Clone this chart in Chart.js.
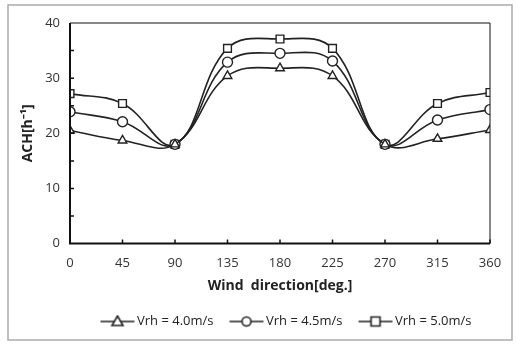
<!DOCTYPE html>
<html>
<head>
<meta charset="utf-8">
<script src="https://cdn.jsdelivr.net/npm/chart.js@4.4.1/dist/chart.umd.min.js"></script>
<style>
  body { margin: 0; background: #fff; }
  #wrap { width: 517px; height: 346px; position: relative; }
</style>
</head>
<body>
<div id="wrap"><canvas id="c" width="517" height="346"></canvas></div>
<script>
// wind direction [deg] and ACH values
var angles = [0, 45, 90, 135, 180, 225, 270, 315, 360];
var ach40 = [20.5, 18.7, 18.0, 30.4, 31.8, 30.4, 18.0, 19.0, 20.6];
var ach45 = [23.9, 22.1, 18.0, 32.9, 34.5, 33.1, 18.0, 22.4, 24.3];
var ach50 = [27.2, 25.4, 18.0, 35.4, 37.1, 35.4, 18.0, 25.4, 27.4];
var seriesNames = ['Vrh = 4.0m/s', 'Vrh = 4.5m/s', 'Vrh = 5.0m/s'];
var markers = ['triangle', 'circle', 'rect'];
var xTicks = [0, 45, 90, 135, 180, 225, 270, 315, 360];

var FONT = "'Open Sans', 'Liberation Sans', sans-serif";

function pts(vals) {
  return angles.map(function(a, i) { return { x: a, y: vals[i] }; });
}

// legend icon: short line with marker in the middle
// (canvas is drawn centred on the 30px legend box, so line runs 5..39)
function legendIcon(style) {
  var cv = document.createElement('canvas');
  cv.width = 40; cv.height = 14;
  var g = cv.getContext('2d');
  g.strokeStyle = '#222'; g.lineWidth = 1.6;
  g.beginPath(); g.moveTo(5, 7); g.lineTo(39, 7); g.stroke();
  g.fillStyle = '#fff';
  g.beginPath();
  var cx = 22;
  if (style == 'triangle') {
    g.moveTo(cx, 1.5); g.lineTo(cx + 5.5, 11); g.lineTo(cx - 5.5, 11); g.closePath();
  } else if (style == 'circle') {
    g.arc(cx, 7, 4.5, 0, Math.PI * 2);
  } else {
    g.rect(cx - 4.5, 2.5, 9, 9);
  }
  g.fill(); g.stroke();
  return cv;
}

var sets = [ach40, ach45, ach50].map(function(v, i) {
  return {
    label: seriesNames[i],
    data: pts(v),
    borderColor: '#222',
    borderWidth: 1.6,
    tension: 0.4,
    pointStyle: markers[i],
    pointRadius: markers[i] == 'rect' ? 5.5 : 5,
    pointBackgroundColor: '#fff',
    pointBorderColor: '#222',
    pointBorderWidth: 1.4,
    fill: false
  };
});

var framePlugin = {
  id: 'frame',
  afterLayout: function(chart) {
    // legend sits under the plot area rather than the whole canvas
    chart.legend.left += 31;
    chart.legend.right += 31;
  },
  beforeDraw: function(chart) {
    var ctx = chart.ctx;
    ctx.save();
    ctx.strokeStyle = '#aaa';
    ctx.lineWidth = 1.5;
    ctx.strokeRect(8, 5, 504, 335);
    ctx.restore();
  },
  afterDatasetsDraw: function(chart) {
    var ctx = chart.ctx, a = chart.chartArea;
    var xs = chart.scales.x, ys = chart.scales.y;
    ctx.save();
    ctx.strokeStyle = '#111';
    ctx.lineWidth = 1;
    ctx.beginPath();
    ctx.moveTo(a.left, a.top); ctx.lineTo(a.right, a.top); ctx.lineTo(a.right, a.bottom);
    ctx.stroke();
    ctx.lineWidth = 2;
    ctx.beginPath();
    ctx.moveTo(a.left, a.top); ctx.lineTo(a.left, a.bottom); ctx.lineTo(a.right, a.bottom);
    ctx.stroke();
    // inward tick marks
    ctx.lineWidth = 1.5;
    ctx.beginPath();
    xTicks.forEach(function(t) {
      var px = xs.getPixelForValue(t);
      ctx.moveTo(px, a.bottom); ctx.lineTo(px, a.bottom - 4);
    });
    for (var v = 5; v < 40; v += 5) {
      var py = ys.getPixelForValue(v);
      ctx.moveTo(a.left, py); ctx.lineTo(a.left + 4, py);
    }
    ctx.stroke();
    ctx.restore();
  }
};

new Chart(document.getElementById('c'), {
  type: 'line',
  data: { datasets: sets },
  options: {
    responsive: false,
    animation: false,
    layout: { padding: { left: 20, right: 27, top: 23, bottom: 8 } },
    plugins: {
      tooltip: { enabled: false },
      legend: {
        position: 'bottom',
        labels: {
          usePointStyle: true,
          pointStyleWidth: 30,
          boxHeight: 14,
          color: '#222',
          font: { family: FONT, size: 13 },
          padding: 16,
          generateLabels: function(chart) {
            return chart.data.datasets.map(function(ds, i) {
              return {
                text: ds.label,
                pointStyle: legendIcon(markers[i]),
                fillStyle: '#fff', strokeStyle: '#222', lineWidth: 0,
                datasetIndex: i, hidden: false, fontColor: '#222'
              };
            });
          }
        }
      }
    },
    scales: {
      x: {
        type: 'linear',
        min: 0, max: 360,
        afterBuildTicks: function(s) { s.ticks = xTicks.map(function(v) { return { value: v }; }); },
        grid: { display: false, drawTicks: false },
        border: { display: false },
        ticks: { color: '#333', font: { family: FONT, size: 13 }, padding: 12 },
        title: { display: true, text: 'Wind  direction[deg.]', color: '#222',
                 font: { family: FONT, size: 14, weight: 'bold' }, padding: { top: 0, bottom: 5 } },
        afterFit: function(s) { s.height -= 6; }
      },
      y: {
        min: 0, max: 40,
        ticks: { stepSize: 10, color: '#333', font: { family: FONT, size: 13 }, padding: 10 },
        grid: { display: false, drawTicks: false },
        border: { display: false },
        title: { display: true, text: 'ACH[h\u207B\u00B9]', color: '#222',
                 font: { family: FONT, size: 14, weight: 'bold' }, padding: 0 },
        afterFit: function(s) { s.width = 50; }
      }
    }
  },
  plugins: [framePlugin]
});
</script>
</body>
</html>
